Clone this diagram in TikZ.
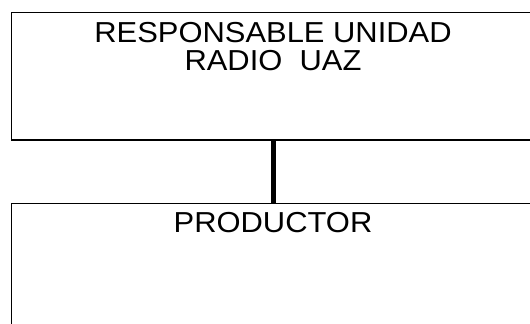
\documentclass[tikz,border=0pt]{standalone}
\usepackage{fontspec}
\setmainfont[FakeStretch=1.07]{Liberation Sans}
\usetikzlibrary{positioning}

\begin{document}
\begin{tikzpicture}[
    x=1bp, y=-1bp,
    orgbox/.style={draw, line width=1.5bp, minimum width=523bp, inner sep=0pt},
    boxtext/.style={anchor=north, inner sep=0pt, align=center, font=\fontsize{29}{28}\selectfont},
    link/.style={line width=5bp}
  ]
  \useasboundingbox (0,0) rectangle (530,323);
  \clip (0,0) rectangle (530,323);

  \node[orgbox, minimum height=127.5bp] (resp) at (273,76.25) {};
  \node[orgbox, minimum height=157bp, anchor=north] (prod) at (273,202.7) {};
  \node[boxtext, below=10.8bp of resp.north] (resptxt) {RESPONSABLE UNIDAD\\RADIO\ \ UAZ};
  \node[boxtext, below=9bp of prod.north] (prodtxt) {PRODUCTOR};

  \draw[link] (resp.south) -- (prod.north);
\end{tikzpicture}
\end{document}
